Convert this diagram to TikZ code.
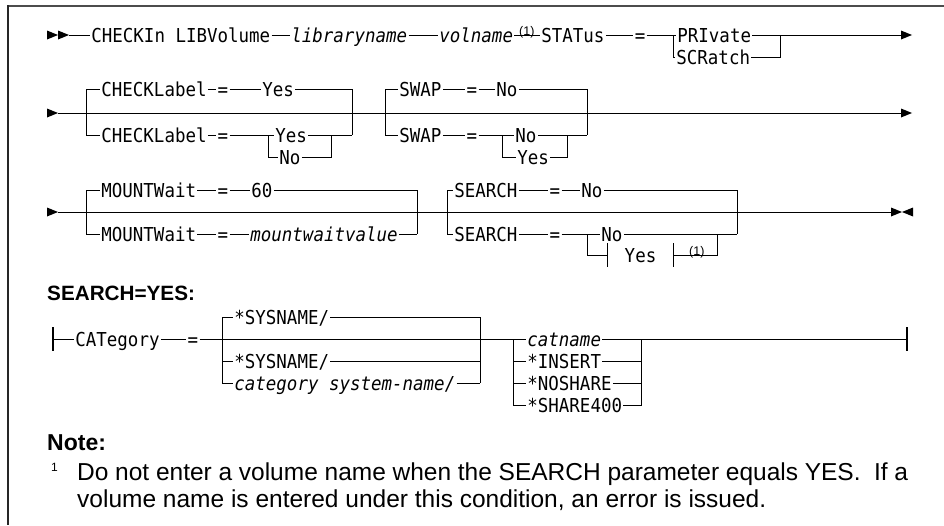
\documentclass[tikz,border=0pt]{standalone}
\usepackage{fontspec}
\newfontfamily\kwfont{DejaVu Sans Mono}[FakeStretch=0.91]
\newfontfamily\sansf{Liberation Sans}
\tikzset{
  kw/.style={font=\kwfont\fontsize{19.2}{22}\selectfont, text height=14pt, text depth=0pt, inner ysep=0pt, inner xsep=1.2pt, anchor=west},
  var/.style={kw, font=\kwfont\fontsize{19.2}{22}\selectfont\itshape},
  eqs/.style={kw, anchor=center},
  fnm/.style={font=\sansf\fontsize{12.5}{14}\selectfont, inner sep=0pt, anchor=south west},
  rail/.style={line width=0.9pt, black},
  tip/.style={fill=black},
  bar/.style={line width=1.1pt, black},
}
\begin{document}
\begin{tikzpicture}[x=1pt,y=-1pt]
\useasboundingbox (0,0) rectangle (944,525);
% frame
\draw[line width=2.2pt, black!70] (7,6) -- (944,6);
\draw[line width=1.4pt, black!85] (8,5) -- (8,525);

% ---------------- Row 1
\coordinate (r1s) at (69,35);
\coordinate (r1e) at (901,35);
\fill[tip] (47,30.5) -- (58,35) -- (47,39.5) -- cycle;
\fill[tip] (58,30.5) -- (69,35) -- (58,39.5) -- cycle;
\node[kw] (chk) at (90,35) {CHECKIn LIBVolume};
\node[var] (lib) at (290,35) {libraryname};
\node[var] (vol) at (438,35) {volname};
\node[fnm] (fa) at (519,38) {(1)};
\node[kw] (stat) at (540,35) {STATus};
\node[eqs] (eq1) at (640,35) {=};
\coordinate (p1) at (673,35); \coordinate (p2) at (673,57);
\node[kw] (priv) at (676,35) {PRIvate};
\node[kw] (scr) at (675,57) {SCRatch};
\coordinate (p3) at (780,35); \coordinate (p4) at (780,57);
\draw[rail] (r1s) -- (chk.west) (chk.east) -- (lib.west) (lib.east) -- (vol.west)
  (vol.east) -- (stat.west) (stat.east) -- (eq1.west) (eq1.east) -- (priv.west)
  (priv.east) -- (r1e) (p1) -- (p2) -- (scr.west) (scr.east) -- (p4) -- (p3);
\fill[tip] (r1e) ++(0,-4.5) -- ++(11,4.5) -- ++(-11,4.5) -- cycle;

% ---------------- Row 2
\coordinate (r2s) at (58,113);
\coordinate (r2e) at (901,113);
\fill[tip] (47,108.5) -- (58,113) -- (47,117.5) -- cycle;
\draw[rail] (r2s) -- (r2e);
\fill[tip] (r2e) ++(0,-4.5) -- ++(11,4.5) -- ++(-11,4.5) -- cycle;
% CHECKLabel box
\coordinate (A1) at (86,89); \coordinate (A2) at (86,135);
\coordinate (A3) at (352,89); \coordinate (A4) at (352,135);
\node[kw] (cla) at (100,89) {CHECKLabel};
\node[eqs] (eqa) at (223,89) {=};
\node[kw] (yesa) at (261,89) {Yes};
\node[kw] (clb) at (100,135) {CHECKLabel};
\node[eqs] (eqb) at (223,135) {=};
\coordinate (a5) at (268,135); \coordinate (a6) at (268,157);
\node[kw] (yesb) at (274,135) {Yes};
\node[kw] (nob) at (278,157) {No};
\coordinate (a7) at (331,135); \coordinate (a8) at (331,157);
\draw[rail] (A2) -- (A1) -- (cla.west) (cla.east) -- (eqa.west) (eqa.east) -- (yesa.west)
  (yesa.east) -- (A3) -- (A4)
  (A2) -- (clb.west) (clb.east) -- (eqb.west) (eqb.east) -- (yesb.west) (yesb.east) -- (A4)
  (a5) -- (a6) -- (nob.west) (nob.east) -- (a8) -- (a7);
% SWAP box
\coordinate (B1) at (385,89); \coordinate (B2) at (385,135);
\coordinate (B3) at (587,89); \coordinate (B4) at (587,135);
\node[kw] (swa) at (398,89) {SWAP};
\node[eqs] (eqc) at (472,89) {=};
\node[kw] (noa) at (495,89) {No};
\node[kw] (swb) at (398,135) {SWAP};
\node[eqs] (eqd) at (472,135) {=};
\coordinate (b5) at (502,135); \coordinate (b6) at (502,157);
\node[kw] (nob2) at (514,135) {No};
\node[kw] (yesc) at (516,157) {Yes};
\coordinate (b7) at (567,135); \coordinate (b8) at (567,157);
\draw[rail] (B2) -- (B1) -- (swa.west) (swa.east) -- (eqc.west) (eqc.east) -- (noa.west)
  (noa.east) -- (B3) -- (B4)
  (B2) -- (swb.west) (swb.east) -- (eqd.west) (eqd.east) -- (nob2.west) (nob2.east) -- (B4)
  (b5) -- (b6) -- (yesc.west) (yesc.east) -- (b8) -- (b7);

% ---------------- Row 3
\coordinate (r3s) at (58,212);
\coordinate (r3e) at (891,212);
\fill[tip] (47,207.5) -- (58,212) -- (47,216.5) -- cycle;
\draw[rail] (r3s) -- (r3e);
\fill[tip] (r3e) ++(0,-4.5) -- ++(11,4.5) -- ++(-11,4.5) -- cycle;
\fill[tip] (r3e) ++(22,-4.5) -- ++(-11,4.5) -- ++(11,4.5) -- cycle;
% MOUNTWait box
\coordinate (C1) at (86,190); \coordinate (C2) at (86,234);
\coordinate (C3) at (417,190); \coordinate (C4) at (417,234);
\node[kw] (mwa) at (100,190) {MOUNTWait};
\node[eqs] (eqe) at (223,190) {=};
\node[kw] (sixty) at (250,190) {60};
\node[kw] (mwb) at (100,234) {MOUNTWait};
\node[eqs] (eqf) at (223,234) {=};
\node[var] (mwv) at (249,234) {mountwaitvalue};
\draw[rail] (C2) -- (C1) -- (mwa.west) (mwa.east) -- (eqe.west) (eqe.east) -- (sixty.west)
  (sixty.east) -- (C3) -- (C4)
  (C2) -- (mwb.west) (mwb.east) -- (eqf.west) (eqf.east) -- (mwv.west) (mwv.east) -- (C4);
% SEARCH box
\coordinate (D1) at (447,190); \coordinate (D2) at (447,234);
\coordinate (D3) at (737,190); \coordinate (D4) at (737,234);
\node[kw] (sra) at (453,190) {SEARCH};
\node[eqs] (eqg) at (555,190) {=};
\node[kw] (noc) at (580,190) {No};
\node[kw] (srb) at (453,234) {SEARCH};
\node[eqs] (eqh) at (555,234) {=};
\coordinate (d5) at (587,234); \coordinate (d6) at (587,255);
\node[kw] (nod) at (600,234) {No};
\node[kw, anchor=center, minimum width=65pt] (yesr) at (640.5,255) {Yes};
\node[fnm] (fb) at (689,258) {(1)};
\coordinate (d8) at (717,255); \coordinate (d9) at (717,234);
\draw[rail] (D2) -- (D1) -- (sra.west) (sra.east) -- (eqg.west) (eqg.east) -- (noc.west)
  (noc.east) -- (D3) -- (D4)
  (D2) -- (srb.west) (srb.east) -- (eqh.west) (eqh.east) -- (nod.west) (nod.east) -- (D4)
  (d5) -- (d6) -- (yesr.west) (yesr.east) -- (d8) -- (d9);
\draw[bar] (yesr.west) ++(0,-12) -- ++(0,24);
\draw[bar] (yesr.east) ++(0,-12) -- ++(0,24);

% ---------------- SEARCH=YES fragment
\node[anchor=base west, font=\sansf\bfseries\fontsize{20.7}{24}\selectfont, inner sep=0pt] (hd) at (47,300) {SEARCH=YES:};
\coordinate (fs) at (53,339);
\coordinate (fe) at (907,339);
\draw[bar] (fs) ++(0,-12) -- ++(0,24);
\draw[bar] (fe) ++(0,-12) -- ++(0,24);
\node[kw] (cat) at (74,339) {CATegory};
\node[eqs] (eqi) at (193,339) {=};
\coordinate (E1) at (222,317); \coordinate (E2) at (222,383);
\coordinate (E3) at (480,317); \coordinate (E4) at (480,383);
\coordinate (E5) at (222,361); \coordinate (E6) at (480,361);
\node[kw] (sys1) at (233,317) {*SYSNAME/};
\node[kw] (sys2) at (233,361) {*SYSNAME/};
\node[var] (csn) at (233,383) {category system-name/};
\coordinate (F1) at (513,339); \coordinate (F2) at (513,405);
\coordinate (F3) at (641,339); \coordinate (F4) at (641,405);
\coordinate (F5) at (513,361); \coordinate (F6) at (641,361);
\coordinate (F7) at (513,383); \coordinate (F8) at (641,383);
\node[var] (catn) at (526,339) {catname};
\node[kw] (ins) at (526,361) {*INSERT};
\node[kw] (nos) at (526,383) {*NOSHARE};
\node[kw] (sh4) at (526,405) {*SHARE400};
\draw[rail] (fs) -- (cat.west) (cat.east) -- (eqi.west) (eqi.east) -- (catn.west)
  (catn.east) -- (fe)
  (E2) -- (E1) -- (sys1.west) (sys1.east) -- (E3) -- (E4)
  (E5) -- (sys2.west) (sys2.east) -- (E6)
  (E2) -- (csn.west) (csn.east) -- (E4)
  (F1) -- (F2) -- (sh4.west) (sh4.east) -- (F4) -- (F3)
  (F5) -- (ins.west) (ins.east) -- (F6)
  (F7) -- (nos.west) (nos.east) -- (F8);

% ---------------- Note
\node[anchor=base west, font=\sansf\bfseries\fontsize{23}{27}\selectfont, inner sep=0pt] (note) at (47,450) {Note:};
\node[anchor=base west, font=\sansf\fontsize{12}{14}\selectfont, inner sep=0pt] (fn) at (51,471) {1};
\node[anchor=base west, font=\sansf\fontsize{24.5}{27}\selectfont, inner sep=0pt] (l1) at (77,480)
  {\makebox[831pt][s]{Do not enter a volume name when the SEARCH parameter equals YES.\ \ If a}};
\node[anchor=base west, font=\sansf\fontsize{24.5}{27}\selectfont, inner sep=0pt] (l2) at (77,507)
  {volume name is entered under this condition, an error is issued.};
\end{tikzpicture}
\end{document}
